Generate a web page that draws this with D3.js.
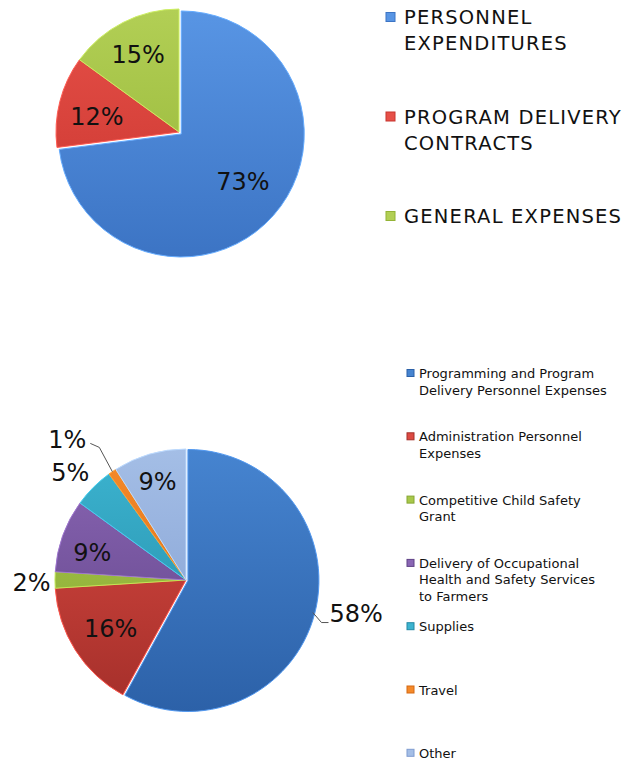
<!DOCTYPE html>
<html>
<head>
<meta charset="utf-8">
<script src="https://cdn.jsdelivr.net/npm/d3@7"></script>
<style>
  body { margin: 0; background: #fff; }
  svg { display: block; font-family: "DejaVu Sans", Verdana, sans-serif; }
</style>
</head>
<body>
<div id="chart"></div>
<script>
// top chart: budget by category
const topCategories = ["PERSONNEL EXPENDITURES", "PROGRAM DELIVERY CONTRACTS", "GENERAL EXPENSES"];
const topLegendLines = [["PERSONNEL", "EXPENDITURES"], ["PROGRAM DELIVERY", "CONTRACTS"], ["GENERAL EXPENSES"]];
const topValues = [73, 12, 15];
const topLabels = ["73%", "12%", "15%"];

// bottom chart: detailed expenses
const bottomCategories = [
    "Programming and Program Delivery Personnel Expenses",
    "Administration Personnel Expenses",
    "Competitive Child Safety Grant",
    "Delivery of Occupational Health and Safety Services to Farmers",
    "Supplies",
    "Travel",
    "Other"
];
const bottomLegendLines = [
    ["Programming and Program", "Delivery Personnel Expenses"],
    ["Administration Personnel", "Expenses"],
    ["Competitive Child Safety", "Grant"],
    ["Delivery of Occupational", "Health and Safety Services", "to Farmers"],
    ["Supplies"],
    ["Travel"],
    ["Other"]
];
const bottomValues = [58, 16, 2, 9, 5, 1, 9];
const bottomLabels = ["58%", "16%", "2%", "9%", "5%", "1%", "9%"];

// [light, dark] pairs for the vertical shading
const topColors = [["#5895e4", "#3c74c4"], ["#e65048", "#c8342e"], ["#b2cf55", "#93b335"]];
const bottomColors = [
    ["#4684d0", "#2c61a8"], ["#dc4a42", "#a42f2a"], ["#a8c84a", "#86a632"],
    ["#8a66b4", "#5f4286"], ["#3cb4d0", "#2388a4"], ["#f58a2a", "#d46812"], ["#a4bee6", "#7f9cd0"]
];

const W = 636, H = 761;
const svg = d3.select("#chart").append("svg").attr("width", W).attr("height", H);
const defs = svg.append("defs");

const pie = d3.pie().sort(null).value(d => d);

function drawPie(opts) {
    const arcs = pie(opts.values);
    const arc = d3.arc().innerRadius(0).outerRadius(opts.r);
    const g = svg.append("g").attr("transform", `translate(${opts.cx},${opts.cy})`);

    opts.colors.forEach((c, i) => {
        const grad = defs.append("linearGradient")
            .attr("id", opts.id + "g" + i)
            .attr("gradientUnits", "userSpaceOnUse")
            .attr("x1", 0).attr("y1", -opts.r)
            .attr("x2", 0).attr("y2", opts.r);
        grad.append("stop").attr("offset", "0%").attr("stop-color", c[0]);
        grad.append("stop").attr("offset", "100%").attr("stop-color", c[1]);
    });

    g.selectAll("path.slice")
        .data(arcs)
        .join("path")
        .attr("class", "slice")
        .attr("transform", (d, i) => {
            const off = opts.explode[i] || 0;
            const a = (d.startAngle + d.endAngle) / 2;
            return `translate(${off * Math.sin(a)},${-off * Math.cos(a)})`;
        })
        .attr("d", arc)
        .attr("fill", (d, i) => `url(#${opts.id}g${i})`)
        .attr("stroke", (d, i) => d3.color(opts.colors[i][0]).brighter(0.4))
        .attr("stroke-width", 1);

    // labels, placed along each slice's mid angle
    arcs.forEach((d, i) => {
        const lay = opts.labelLayout[i];
        const a = (d.startAngle + d.endAngle) / 2;
        const rr = opts.r * lay.k;
        const x = rr * Math.sin(a) + (lay.dx || 0);
        const y = -rr * Math.cos(a) + (lay.dy || 0);
        if (lay.leader) {
            const ex = opts.r * Math.sin(a), ey = -opts.r * Math.cos(a);
            const pts = lay.leader.map(p => p === null ? [ex, ey] : [x + p[0], y + p[1]]);
            g.append("path")
                .attr("d", d3.line()(pts))
                .attr("fill", "none")
                .attr("stroke", "#555")
                .attr("stroke-width", 1);
        }
        g.append("text")
            .attr("x", x).attr("y", y)
            .attr("text-anchor", lay.anchor || "middle")
            .attr("dominant-baseline", "central")
            .attr("font-size", opts.fontSize)
            .attr("fill", "#111")
            .text(opts.labels[i]);
    });
}

drawPie({
    id: "top", cx: 179, cy: 132, r: 123,
    values: topValues, labels: topLabels, colors: topColors,
    explode: [3, 0, 0], fontSize: 24,
    labelLayout: [{ k: 0.65, dx: 4, dy: -3 }, { k: 0.69, dy: 6 }, { k: 0.73, dy: 3 }]
});

drawPie({
    id: "bot", cx: 186, cy: 580, r: 131,
    values: bottomValues, labels: bottomLabels, colors: bottomColors,
    explode: [2, 0, 0, 0, 0, 0, 0], fontSize: 24,
    labelLayout: [
        { k: 1.06, dx: 9, dy: -1, anchor: "start", leader: [null, [-8, 9], [-1, 9]] },
        { k: 0.7, dx: 2 },
        { k: 1.18, dy: 3 },
        { k: 0.76, dy: 7 },
        { k: 1.0, dx: -23, dy: -14 },
        { k: 1.15, dx: -34, dy: -15, leader: [[23, 3], [32, 7], null] },
        { k: 0.78 }
    ]
});

// legends
function drawLegend(items, colors, o) {
    const g = svg.append("g");
    items.forEach((lines, i) => {
        const y0 = o.y0 + i * o.step;
        const c = colors[i];
        g.append("rect")
            .attr("x", o.mx).attr("y", y0 - o.ms / 2)
            .attr("width", o.ms).attr("height", o.ms)
            .attr("fill", c[0]).attr("stroke", c[1]).attr("stroke-width", 1);
        const t = g.append("text")
            .attr("x", o.tx).attr("y", y0)
            .attr("dominant-baseline", "central")
            .attr("font-size", o.fontSize)
            .attr("letter-spacing", o.ls || 0)
            .attr("fill", "#111");
        lines.forEach((line, j) => {
            t.append("tspan").attr("x", o.tx).attr("y", y0 + j * o.lh).text(line);
        });
    });
}

drawLegend(topLegendLines, topColors, {
    y0: 17, step: 99.5, mx: 386, ms: 9, tx: 404, lh: 26, fontSize: 19.5, ls: 1.2
});

drawLegend(bottomLegendLines, bottomColors, {
    y0: 373, step: 63.3, mx: 407, ms: 7, tx: 419, lh: 16.5, fontSize: 13
});
</script>
</body>
</html>
